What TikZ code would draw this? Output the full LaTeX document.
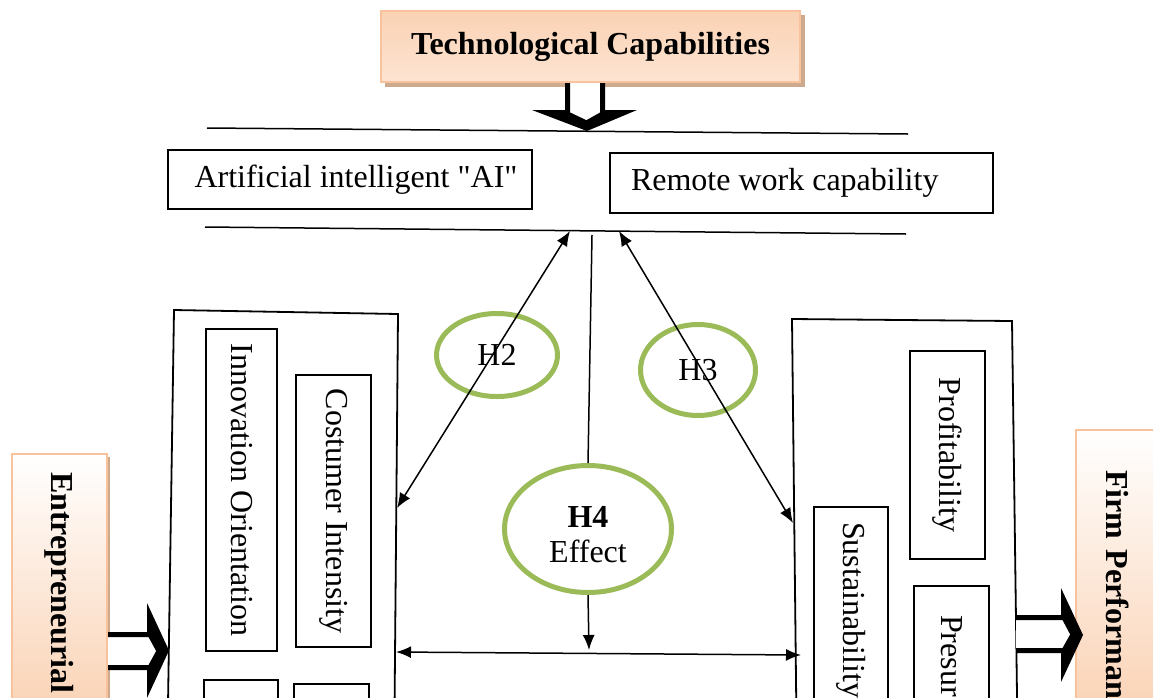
\documentclass[tikz,border=0pt]{standalone}
\usepackage{fontspec}
\setmainfont{Liberation Serif}
\newfontfamily\plainquote[Ligatures=TeXOff]{Liberation Serif}
\usetikzlibrary{arrows.meta,shapes.geometric,calc}
\definecolor{peach}{HTML}{FAD2B4}
\definecolor{peachlight}{HTML}{FDE4D2}
\definecolor{peachline}{HTML}{F7C29C}
\definecolor{peachshadow}{HTML}{CDAA8E}
\definecolor{hgreen}{HTML}{9BBB59}
\newcommand{\dq}{{\plainquote"}}
\begin{document}
\begin{tikzpicture}[x=1pt,y=-1pt,
  every node/.style={font=\fontsize{32}{38}\selectfont, inner sep=0pt},
  title/.style={font=\fontsize{32}{38}\selectfont\bfseries},
  box/.style={draw=black, line width=1.8pt, fill=white},
  vbox/.style={box, rotate=-90},
  topalign/.style={align=left, text width=#1},
  framel/.style={draw=black, line width=1.8pt},
  rule/.style={draw=black, line width=1.5pt},
  hyp/.style={ellipse, draw=hgreen, line width=5pt},
  tipL/.tip={Latex[length=15pt,width=12pt]},
  link/.style={line width=1.5pt, -tipL},
  twoway/.style={line width=1.5pt, tipL-tipL},
  blockstem/.style={draw=black, line width=5pt, fill=white, line join=miter},
  blockhead/.style={fill=black},
]
\useasboundingbox (0,0) rectangle (1153,697);
\fill[white] (0,0) rectangle (1153,697);
\clip (0,0) rectangle (1153,697);

% ---- top: technological capabilities
\fill[peachshadow] (385,15) rectangle (805,87);
\shade[top color=peach, bottom color=peachlight] (381,11) rectangle (800,82);
\node[title, draw=peachline, line width=2pt,
      minimum width=419pt, minimum height=71pt] (tech) at (590.5,46.5) {Technological Capabilities};

% hollow block arrow pointing down
\fill[blockhead] (532,110) -- (637,110) -- (587,131) -- cycle;
\draw[blockstem] (567.5,83) -- (567.5,114) -- (586.5,123) -- (602.5,114) -- (602.5,83);

% ---- the two capability boxes between rules
\coordinate (ra1) at (207,128);
\coordinate (ra2) at (908,134);
\coordinate (rb1) at (205,227);
\coordinate (rb2) at (906,234);
\draw[rule] (ra1) -- (ra2);
\draw[rule] (rb1) -- (rb2);

\node[box, minimum width=364pt, minimum height=59pt] (ai) at (350,179.5) {\hspace*{12pt}Artificial intelligent \dq AI\dq};
\node[box, minimum width=383pt, minimum height=60pt] (remote) at (801.5,183) {\makebox[341pt][l]{Remote work capability}};

% ---- left frame (entrepreneurial dimensions)
\coordinate (L1) at (174,310);
\coordinate (L2) at (398,314);
\coordinate (L3) at (394,770);
\coordinate (L4) at (167,770);
\draw[framel] (L4) -- (L1) -- (L2) -- (L3);

\node[vbox, minimum width=322pt, minimum height=71pt] (inno) at (241.5,490) {Innovation Orientation};
\node[vbox, minimum width=272pt, minimum height=75pt] (cust) at (333.5,511) {Costumer Intensity};
\node[vbox, minimum width=100pt, minimum height=74pt] (lb3) at (241,730) {};
\node[vbox, minimum width=100pt, minimum height=75pt] (lb4) at (331.5,734) {};

% ---- right frame (performance dimensions)
\coordinate (R1) at (792,319);
\coordinate (R2) at (1012,321);
\coordinate (R3) at (1018,770);
\coordinate (R4) at (797,770);
\draw[framel] (R4) -- (R1) -- (R2) -- (R3);

\node[vbox, minimum width=208pt, minimum height=75pt] (profit) at (947.5,455) {Profitability};
\node[vbox, topalign=220pt, inner xsep=15pt, minimum height=74pt] (sust) at (851,632) {Sustainability};
\node[vbox, topalign=150pt, inner xsep=29pt, minimum height=75pt] (presur) at (951.5,690) {Presur};

% ---- side boxes (shadow, gradient fill, then framed text)
\fill[peachshadow] (15,457) rectangle (110,800);
\shade[top color=white, bottom color=peach] (12,454) rectangle (107,715);
\node[title, rotate=-90, draw=peachline, line width=2pt,
      topalign=300pt, inner xsep=18pt, minimum height=95pt] (entre) at (59.5,622) {Entrepreneurial};
\fill[blockhead] (147,603) -- (147,698) -- (169,650.5) -- cycle;
\draw[blockstem] (108,634.5) -- (150,634.5) -- (159,651) -- (150,667.5) -- (108,667.5);

\fill[peachshadow] (1079,433) rectangle (1170,820);
\shade[top color=white, bottom color=peach] (1076,430) rectangle (1160,715);
\node[title, rotate=-90, draw=peachline, line width=2pt,
      topalign=300pt, inner xsep=40pt, minimum height=84pt] (firm) at (1118,620) {Firm Performance};
\fill[blockhead] (1061,588) -- (1061,682) -- (1083,635) -- cycle;
\draw[blockstem] (1016,617.5) -- (1064,617.5) -- (1073,634.5) -- (1064,650.5) -- (1016,650.5);

% ---- hypotheses
\node[hyp, minimum width=121pt, minimum height=83pt] (h2) at (497,355) {H2};
\node[hyp, minimum width=115pt, minimum height=91pt] (h3) at (698,370) {H3};
\node[hyp, minimum width=167pt, minimum height=127pt] (h4) at (588,529) {};
\node[align=center] (h4text) at (588,535) {\textbf{H4}\\[-3pt]Effect};

\coordinate (h2top) at (570,231);
\coordinate (h2end) at (397,508);
\coordinate (h3top) at (619,231);
\coordinate (h3end) at (793,523);
\coordinate (mtop) at (592,235);
\coordinate (h4foot) at (589,650);
\coordinate (hl) at (396,652);
\coordinate (hr) at (801,655);

\draw[twoway] (h2top) -- (h2end);
\draw[twoway] (h3top) -- (h3end);
\draw[line width=1.5pt] (mtop) -- (h4.north);
\draw[link] (h4.south) -- (h4foot);
\draw[twoway] (hl) -- (hr);
\end{tikzpicture}
\end{document}
